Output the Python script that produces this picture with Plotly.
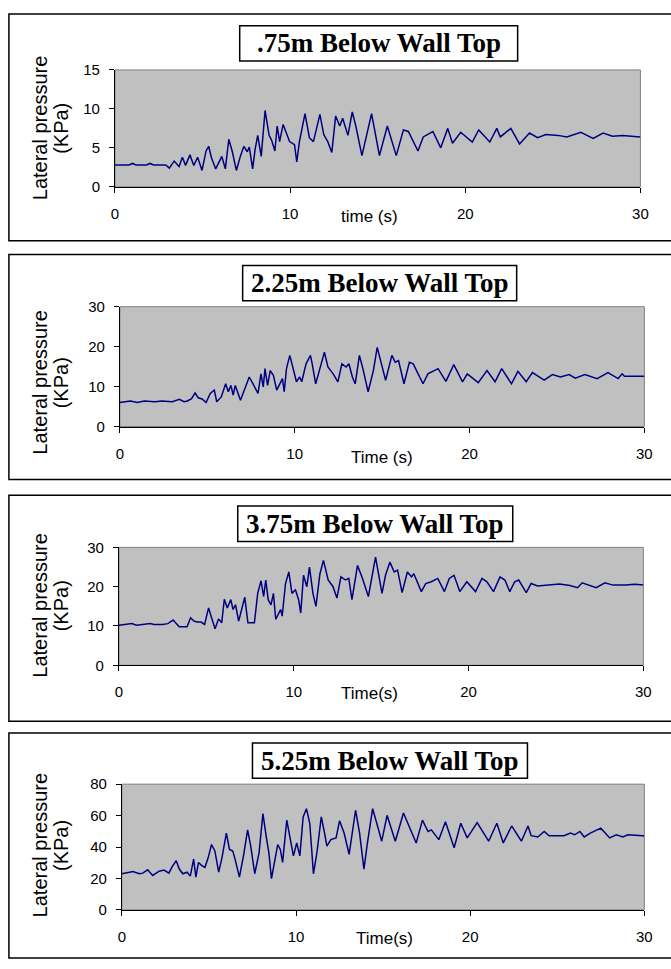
import plotly.graph_objects as go

W, H = 671, 969

# ---------------- data ----------------
titles = [".75m Below Wall Top", "2.25m Below Wall Top", "3.75m Below Wall Top", "5.25m Below Wall Top"]
xlabels = ["time (s)", "Time (s)", "Time(s)", "Time(s)"]
ylabel_line1 = "Lateral pressure"
ylabel_line2 = "(KPa)"
x_ticks = [0, 10, 20, 30]
y_ranges = [[0, 15], [0, 30], [0, 30], [0, 80]]
y_ticks = [[0, 5, 10, 15], [0, 10, 20, 30], [0, 10, 20, 30], [0, 20, 40, 60, 80]]

t1 = [0, 0.8, 1.0, 1.2, 1.8, 2.0, 2.2, 2.9, 3.1, 3.38,
      3.66, 3.85, 4.03, 4.28, 4.5, 4.72, 4.97, 5.2, 5.35, 5.5,
      5.75, 5.94, 6.1, 6.3, 6.5, 6.7, 6.93, 7.17, 7.36, 7.55,
      7.67, 7.86, 8.0, 8.15, 8.35, 8.57, 8.8, 8.94, 9.13, 9.26,
      9.4, 9.6, 9.97, 10.25, 10.38, 10.53, 10.85, 11.1, 11.33, 11.7,
      11.92, 12.15, 12.38, 12.6, 12.83, 13.0, 13.3, 13.55, 13.75, 14.1,
      14.65, 15.1, 15.55, 16.06, 16.47, 16.75, 17.3, 17.6, 18.15, 18.6,
      19.0, 19.27, 19.74, 20.4, 20.77, 21.4, 21.8, 22.0, 22.3, 22.6,
      23.1, 23.67, 24.13, 24.6, 25.3, 25.8, 26.6, 27.3, 27.87, 28.4,
      29.0, 29.6, 30]
p1 = [2.8, 2.8, 3.0, 2.8, 2.8, 3.0, 2.8, 2.8, 2.4, 3.3,
      2.6, 3.8, 2.75, 4.1, 2.75, 3.8, 2.1, 4.6, 5.2, 3.8,
      2.3, 3.2, 3.9, 2.3, 6.1, 4.5, 2.1, 4.0, 5.2, 4.5,
      5.1, 2.3, 4.8, 6.6, 3.9, 9.8, 6.6, 6.0, 4.6, 7.8,
      5.8, 8.0, 5.8, 5.4, 3.2, 5.8, 9.4, 6.3, 5.8, 9.3,
      6.7, 5.8, 4.4, 9.1, 7.8, 8.8, 6.6, 9.6, 7.8, 4.0,
      9.4, 4.0, 7.8, 4.0, 7.3, 7.1, 4.6, 6.4, 7.1, 5.0,
      7.5, 5.6, 7.0, 5.75, 7.3, 5.75, 7.5, 6.4, 6.9, 7.5,
      5.5, 6.9, 6.3, 6.7, 6.6, 6.4, 7.0, 6.2, 6.9, 6.5,
      6.6, 6.5, 6.4]

t2 = [0, 0.6, 1.0, 1.4, 2.0, 2.4, 3.0, 3.4, 3.67, 3.86,
      4.1, 4.3, 4.48, 4.7, 4.93, 5.17, 5.4, 5.54, 5.8, 6.05,
      6.2, 6.35, 6.48, 6.6, 6.9, 7.4, 7.66, 7.9, 8.07, 8.2,
      8.3, 8.45, 8.6, 8.78, 8.97, 9.3, 9.4, 9.53, 9.72, 9.9,
      10.1, 10.28, 10.4, 10.65, 10.9, 11.0, 11.2, 11.44, 11.7, 11.9,
      12.2, 12.47, 12.7, 12.94, 13.1, 13.3, 13.46, 13.7, 13.9, 14.2,
      14.5, 14.72, 14.9, 15.2, 15.56, 15.75, 15.94, 16.25, 16.56, 16.78,
      17.06, 17.34, 17.62, 18.2, 18.65, 19.1, 19.6, 19.87, 20.5, 21.0,
      21.46, 21.84, 22.4, 22.77, 23.24, 23.6, 24.27, 24.74, 25.2, 25.7,
      26.05, 26.6, 27.3, 27.92, 28.5, 28.73, 28.86, 30]
p2 = [6.0, 6.4, 6.0, 6.4, 6.2, 6.4, 6.2, 6.8, 6.2, 6.4,
      7.0, 8.4, 7.2, 6.9, 6.0, 8.3, 9.1, 6.2, 7.4, 10.7,
      8.7, 10.3, 7.9, 10.3, 6.6, 12.4, 10.3, 8.3, 13.2, 9.9,
      14.5, 10.3, 14.0, 12.8, 9.1, 12.0, 8.7, 14.5, 17.8, 14.5,
      11.2, 12.4, 11.2, 15.7, 17.8, 15.7, 10.7, 14.5, 18.6, 14.9,
      13.2, 11.2, 15.7, 14.9, 15.7, 12.4, 10.7, 17.8, 14.5, 8.7,
      14.0, 19.8, 16.5, 11.6, 17.8, 16.1, 16.5, 10.7, 16.1, 15.7,
      13.2, 10.7, 13.2, 14.5, 11.3, 15.5, 11.2, 13.2, 11.0, 14.0,
      11.2, 14.5, 10.7, 13.8, 11.2, 13.5, 11.6, 13.0, 12.4, 13.0,
      12.1, 13.0, 12.0, 13.5, 12.0, 13.2, 12.6, 12.6]

t3 = [0, 0.75, 1.0, 1.8, 2.0, 2.5, 2.8, 3.1, 3.45, 3.9,
      4.1, 4.29, 4.47, 4.7, 4.9, 5.13, 5.3, 5.5, 5.7, 5.88,
      6.03, 6.2, 6.4, 6.53, 6.67, 6.85, 7.2, 7.38, 7.75, 7.94,
      8.13, 8.28, 8.4, 8.54, 8.7, 8.84, 8.97, 9.16, 9.25, 9.34,
      9.53, 9.72, 9.9, 10.1, 10.28, 10.4, 10.56, 10.75, 10.9, 11.1,
      11.27, 11.5, 11.7, 11.97, 12.25, 12.47, 12.7, 12.96, 13.15, 13.33,
      13.65, 13.9, 14.27, 14.68, 15.05, 15.25, 15.5, 15.75, 15.94, 16.2,
      16.5, 16.74, 16.87, 17.3, 17.55, 17.87, 18.24, 18.62, 18.9, 19.17,
      19.5, 19.9, 20.4, 20.77, 21.05, 21.43, 21.8, 22.08, 22.36, 22.64,
      22.87, 23.3, 23.58, 23.95, 24.5, 25.2, 25.8, 26.24, 26.5, 27.3,
      27.8, 28.26, 29.0, 29.5, 30]
p3 = [10.2, 10.6, 10.2, 10.6, 10.4, 10.4, 10.6, 11.5, 9.8, 9.8,
      12.1, 11.25, 11.0, 11.0, 10.4, 14.6, 12.1, 9.3, 11.8, 10.8,
      16.8, 14.6, 16.7, 14.2, 15.4, 11.25, 17.3, 10.8, 10.8, 18.3,
      21.5, 17.5, 21.7, 16.7, 15.4, 18.3, 11.7, 13.3, 14.2, 12.5,
      20.8, 23.75, 18.3, 19.2, 16.7, 13.3, 22.9, 20.0, 25.0, 18.3,
      15.0, 23.3, 26.7, 21.7, 20.0, 17.1, 22.5, 21.7, 22.1, 16.7,
      25.4, 22.5, 17.5, 27.5, 18.3, 22.9, 26.25, 23.75, 24.2, 18.5,
      23.75, 22.5, 23.3, 18.75, 20.8, 21.25, 22.1, 18.75, 22.1, 22.9,
      18.75, 21.25, 18.75, 22.1, 21.25, 18.75, 22.5, 21.7, 18.75, 21.25,
      21.7, 18.5, 20.8, 20.2, 20.4, 20.7, 20.3, 19.75, 21.0, 19.75,
      21.0, 20.4, 20.4, 20.6, 20.4]

t4 = [0, 0.64, 1.0, 1.2, 1.48, 1.77, 2.14, 2.42, 2.7, 2.9,
      3.12, 3.3, 3.5, 3.74, 3.93, 4.12, 4.25, 4.4, 4.59, 4.77,
      4.96, 5.15, 5.34, 5.56, 5.75, 6.0, 6.18, 6.37, 6.5, 6.75,
      7.0, 7.22, 7.4, 7.63, 7.88, 8.1, 8.3, 8.44, 8.59, 8.76,
      8.95, 9.1, 9.23, 9.47, 9.62, 9.85, 10.04, 10.22, 10.41, 10.6,
      10.79, 11.0, 11.2, 11.45, 11.64, 11.77, 12.0, 12.3, 12.5, 12.76,
      13.05, 13.42, 13.65, 13.9, 14.1, 14.4, 14.64, 14.92, 15.23, 15.7,
      16.17, 16.9, 17.26, 17.58, 17.77, 18.2, 18.58, 19.08, 19.46, 19.83,
      20.4, 21.06, 21.53, 21.9, 22.38, 22.94, 23.32, 23.5, 23.88, 24.25,
      24.53, 25.38, 25.76, 26.0, 26.3, 26.55, 26.9, 27.5, 28.01, 28.39,
      28.77, 29.05, 29.9, 30]
p4 = [23, 24.4, 23, 23.4, 25.5, 21.9, 24.6, 25.3, 23.4, 27.7,
      31.3, 26, 23, 24, 21.5, 32.3, 20.9, 30.2, 28.2, 27.1,
      33.3, 41.6, 37.5, 24, 33.3, 48.9, 38.5, 37.5, 32.3, 20.9,
      35.4, 50.9, 40.6, 23, 36.4, 61.3, 45.8, 36.4, 19.9, 31.3,
      41.6, 38.5, 30.2, 57.1, 48.9, 34.4, 42.6, 34.4, 59.2, 64.4,
      55, 23, 36.4, 59.2, 48.9, 40.6, 44.7, 45.8, 56.7, 48.9,
      35.4, 63.4, 48.9, 26, 42.6, 64.4, 55, 43.7, 60.2, 43.7,
      61.7, 42.6, 57.1, 49.9, 50.9, 44.7, 56.1, 39.5, 55.1, 45.8,
      55.5, 43.7, 55.1, 42.6, 53.4, 43.7, 53.4, 47.2, 46.4, 49.9,
      47.2, 47.2, 48.9, 47.8, 49.9, 46.4, 48.9, 52, 45.8, 47.8,
      46.4, 47.8, 47.2, 47]

times = [t1, t2, t3, t4]
pressures = [p1, p2, p3, p4]

# ---------------- layout geometry (pixels) ----------------
plot_px = [(113, 648, 62, 181), (118, 652, 303, 425), (117, 651, 548, 668), (120, 652, 789, 917)]
panel_px = [(5, 720, 5, 236), (5, 720, 250, 479), (5, 720, 495, 725), (5, 720, 737, 966)]
title_box_px = [(240, 523, 17, 53), (243, 522, 261, 297), (238, 518, 506, 542), (253, 533, 747, 783)]
xlabel_px = [(372, 211), (385, 456), (372, 697), (387, 946)]
ylabel_cy = [121, 380, 607, 851]
ylabel_x1, ylabel_x2 = 37, 58

def px(x):
    return x / W

def py(y):
    return 1 - y / H

SANS = "Liberation Sans, Arial, sans-serif"
NARROW = "Liberation Sans Narrow, Arial Narrow, Liberation Sans, Arial, sans-serif"
SERIF = "Liberation Serif, Times New Roman, serif"

fig = go.Figure()
shapes = []
annotations = []
layout = {}

for i in range(4):
    n = "" if i == 0 else str(i + 1)
    fig.add_trace(go.Scatter(
        x=times[i], y=pressures[i], mode="lines",
        line=dict(color="#000080", width=1.5),
        xaxis="x" + n, yaxis="y" + n, showlegend=False, hoverinfo="skip"))
    l, r, t, b = plot_px[i]
    layout["xaxis" + n] = dict(
        domain=[px(l), px(r)], range=[0, 30], anchor="y" + n,
        tickvals=x_ticks, ticktext=[str(v) for v in x_ticks],
        showline=True, linecolor="black", linewidth=1,
        ticks="outside", ticklen=5, tickcolor="black", tickwidth=1,
        ticklabelstandoff=8,
        showgrid=False, zeroline=False, fixedrange=True,
        tickfont=dict(family=NARROW, size=15, color="black"))
    layout["yaxis" + n] = dict(
        domain=[py(b), py(t)], range=y_ranges[i], anchor="x" + n,
        tickvals=y_ticks[i], ticktext=[str(v) for v in y_ticks[i]],
        showline=True, linecolor="black", linewidth=1,
        ticks="outside", ticklen=5, tickcolor="black", tickwidth=1,
        ticklabelstandoff=6,
        showgrid=False, zeroline=False, fixedrange=True,
        tickfont=dict(family=NARROW, size=15, color="black"))
    shapes.append(dict(type="rect", xref="x" + n + " domain", yref="y" + n + " domain",
                       x0=0, x1=1, y0=0, y1=1, line=dict(color="#808080", width=1),
                       layer="below"))
    pl, pr, pt, pb = panel_px[i]
    shapes.append(dict(type="rect", xref="paper", yref="paper",
                       x0=px(pl), x1=px(pr), y0=py(pb), y1=py(pt),
                       line=dict(color="black", width=1.5)))
    tl, tr, tt, tb = title_box_px[i]
    shapes.append(dict(type="rect", xref="paper", yref="paper",
                       x0=px(tl), x1=px(tr), y0=py(tb), y1=py(tt),
                       line=dict(color="black", width=1.5), fillcolor="white"))
    annotations.append(dict(
        text="<b>" + titles[i] + "</b>", xref="paper", yref="paper",
        x=px((tl + tr) / 2), y=py((tt + tb) / 2), xanchor="center", yanchor="middle",
        showarrow=False, font=dict(family=SERIF, size=27, color="black")))
    annotations.append(dict(
        text=xlabels[i], xref="paper", yref="paper",
        x=px(xlabel_px[i][0]), y=py(xlabel_px[i][1]), xanchor="center", yanchor="middle",
        showarrow=False, font=dict(family=NARROW, size=17, color="black")))
    for xx, txt in ((ylabel_x1, ylabel_line1), (ylabel_x2, ylabel_line2)):
        annotations.append(dict(
            text=txt, xref="paper", yref="paper", textangle=-90,
            x=px(xx), y=py(ylabel_cy[i]), xanchor="center", yanchor="middle",
            showarrow=False, font=dict(family=SANS, size=20, color="black")))

fig.update_layout(
    width=W, height=H, autosize=False,
    margin=dict(l=0, r=0, t=0, b=0),
    paper_bgcolor="white", plot_bgcolor="#C0C0C0",
    shapes=shapes, annotations=annotations, **layout)

fig.write_html("out.html")
